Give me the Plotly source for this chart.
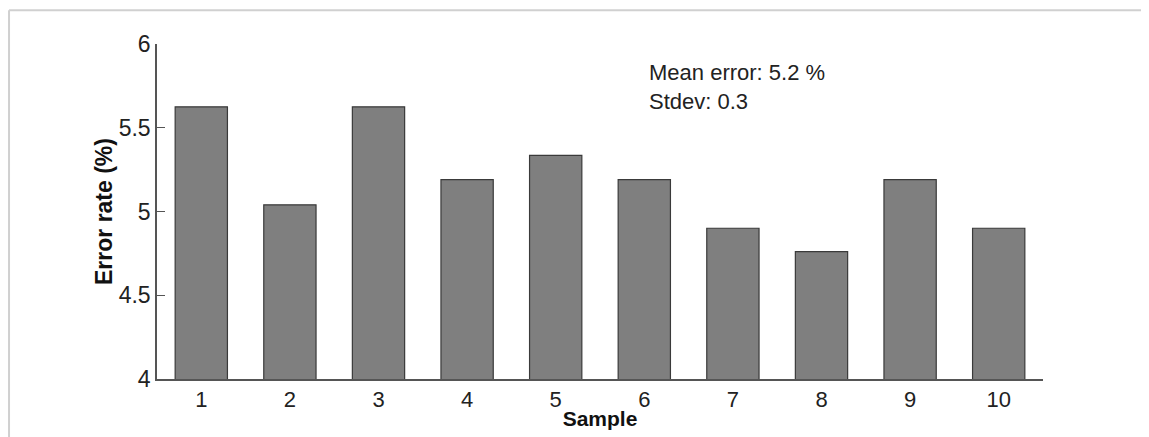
import plotly.graph_objects as go

samples = ["1", "2", "3", "4", "5", "6", "7", "8", "9", "10"]
error_rate = [5.625, 5.04, 5.625, 5.19, 5.335, 5.19, 4.90, 4.76, 5.19, 4.90]
y_ticks = [4, 4.5, 5, 5.5, 6]
y_tick_labels = ["4", "4.5", "5", "5.5", "6"]
stats_text = "Mean error: 5.2 %<br>Stdev: 0.3"

fig = go.Figure()
fig.add_trace(go.Bar(
    x=samples, y=error_rate,
    marker=dict(color="#7f7f7f", line=dict(color="#3a3a3a", width=1.2)),
))

fig.update_layout(
    width=1141, height=429,
    margin=dict(l=149, r=106, t=36, b=58, autoexpand=False),
    paper_bgcolor="white", plot_bgcolor="white",
    bargap=0.41,
    showlegend=False,
    font=dict(family="Liberation Sans, Arial, sans-serif", color="#222"),
    xaxis=dict(
        type="category", range=[-0.5, 9.5],
        showline=True, linecolor="#555", linewidth=1.5,
        ticks="", showgrid=False, zeroline=False,
        tickfont=dict(size=22, color="#222"),
        title=dict(text="<b>Sample</b>", font=dict(size=21, color="#111"), standoff=0),
    ),
    yaxis=dict(
        range=[4, 6], tickvals=y_ticks, ticktext=y_tick_labels,
        showline=True, linecolor="#555", linewidth=1.5,
        ticks="inside", ticklen=8, tickcolor="#555", tickwidth=1.2,
        showgrid=False, zeroline=False,
        tickfont=dict(size=23, color="#222"),
        title=dict(text="<b>Error rate (%)</b>", font=dict(size=23, color="#111"), standoff=0),
    ),
    annotations=[dict(
        xref="paper", yref="paper", x=0.553, y=0.958, xanchor="left", yanchor="top",
        text=stats_text, showarrow=False, align="left",
        font=dict(size=22, color="#222"),
    )],
    shapes=[
        dict(type="line", xref="paper", yref="paper", x0=-0.167, x1=1.2, y0=1.101, y1=1.101,
             line=dict(color="#d0d0d0", width=2)),
        dict(type="line", xref="paper", yref="paper", x0=-0.167, x1=-0.167, y0=1.101, y1=-0.2,
             line=dict(color="#d0d0d0", width=2)),
    ],
)

fig.write_html("out.html")
